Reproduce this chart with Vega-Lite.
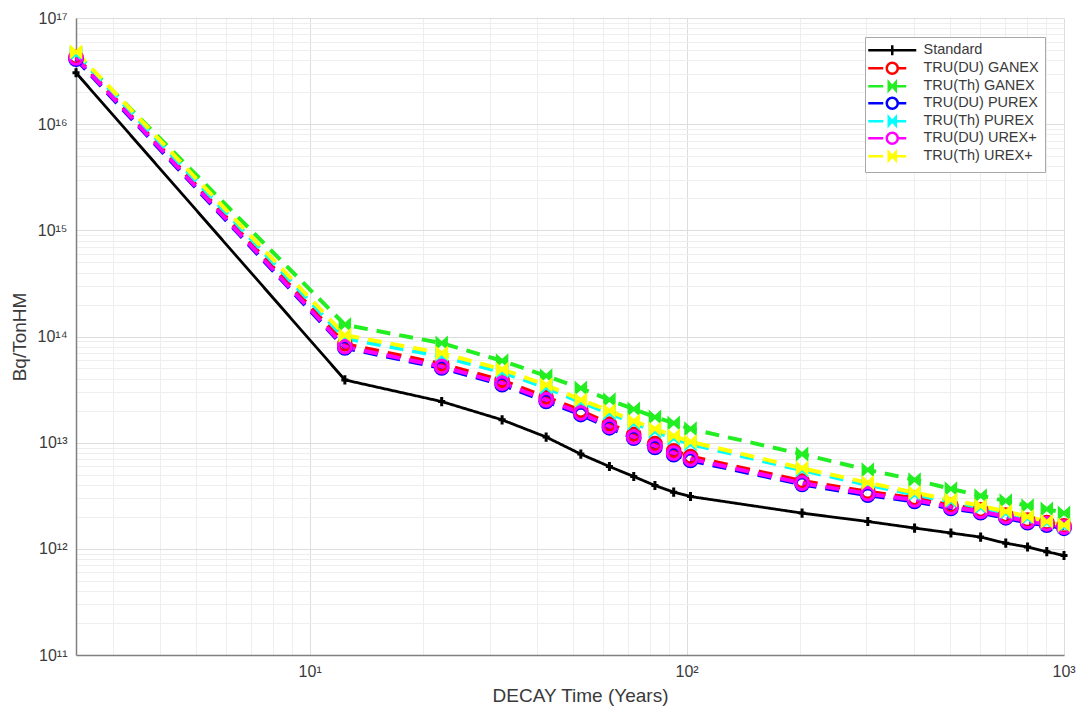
{
  "$schema": "https://vega.github.io/schema/vega-lite/v6.json",
  "width": 988,
  "height": 637,
  "autosize": {"type": "none"},
  "padding": {"left": 76, "top": 18, "right": 12, "bottom": 54},
  "background": "white",
  "config": {
    "view": {"stroke": null},
    "font": "Liberation Sans",
    "axis": {
      "labelFont": "Liberation Sans",
      "titleFont": "Liberation Sans",
      "labelColor": "#3a3a3a",
      "titleColor": "#3a3a3a",
      "titleFontWeight": "normal",
      "domainColor": "#808080",
      "domainWidth": 1.5,
      "ticks": false,
      "labelFontSize": 16,
      "titleFontSize": 19,
      "labelOverlap": false,
      "labelFlush": false,
      "gridWidth": 1
    },
    "legend": {
      "labelFont": "Liberation Sans",
      "labelFontSize": 14.5,
      "labelColor": "#3a3a3a"
    }
  },
  "datasets": {
    "decay": [
      {"s": "Standard", "t": 2.4, "v": 3.05e16},
      {"s": "Standard", "t": 12.4, "v": 3.9e13},
      {"s": "Standard", "t": 22.4, "v": 2.44e13},
      {"s": "Standard", "t": 32.4, "v": 1.64e13},
      {"s": "Standard", "t": 42.4, "v": 1.13e13},
      {"s": "Standard", "t": 52.4, "v": 7.8e12},
      {"s": "Standard", "t": 62.4, "v": 5.96e12},
      {"s": "Standard", "t": 72.4, "v": 4.8e12},
      {"s": "Standard", "t": 82.4, "v": 3.95e12},
      {"s": "Standard", "t": 92.4, "v": 3.42e12},
      {"s": "Standard", "t": 102.4, "v": 3.11e12},
      {"s": "Standard", "t": 202.4, "v": 2.17e12},
      {"s": "Standard", "t": 302.4, "v": 1.81e12},
      {"s": "Standard", "t": 402.4, "v": 1.57e12},
      {"s": "Standard", "t": 502.4, "v": 1.41e12},
      {"s": "Standard", "t": 602.4, "v": 1.29e12},
      {"s": "Standard", "t": 702.4, "v": 1.13e12},
      {"s": "Standard", "t": 802.4, "v": 1.04e12},
      {"s": "Standard", "t": 902.4, "v": 9.4e11},
      {"s": "Standard", "t": 1002.4, "v": 8.65e11},

      {"s": "TRU(DU) GANEX", "t": 2.4, "v": 4.3e16},
      {"s": "TRU(DU) GANEX", "t": 12.4, "v": 8.5e13},
      {"s": "TRU(DU) GANEX", "t": 22.4, "v": 5.5e13},
      {"s": "TRU(DU) GANEX", "t": 32.4, "v": 3.85e13},
      {"s": "TRU(DU) GANEX", "t": 42.4, "v": 2.68e13},
      {"s": "TRU(DU) GANEX", "t": 52.4, "v": 2.0e13},
      {"s": "TRU(DU) GANEX", "t": 62.4, "v": 1.5e13},
      {"s": "TRU(DU) GANEX", "t": 72.4, "v": 1.2e13},
      {"s": "TRU(DU) GANEX", "t": 82.4, "v": 9.8e12},
      {"s": "TRU(DU) GANEX", "t": 92.4, "v": 8.4e12},
      {"s": "TRU(DU) GANEX", "t": 102.4, "v": 7.4e12},
      {"s": "TRU(DU) GANEX", "t": 202.4, "v": 4.35e12},
      {"s": "TRU(DU) GANEX", "t": 302.4, "v": 3.45e12},
      {"s": "TRU(DU) GANEX", "t": 402.4, "v": 3.0e12},
      {"s": "TRU(DU) GANEX", "t": 502.4, "v": 2.57e12},
      {"s": "TRU(DU) GANEX", "t": 602.4, "v": 2.33e12},
      {"s": "TRU(DU) GANEX", "t": 702.4, "v": 2.08e12},
      {"s": "TRU(DU) GANEX", "t": 802.4, "v": 1.87e12},
      {"s": "TRU(DU) GANEX", "t": 902.4, "v": 1.77e12},
      {"s": "TRU(DU) GANEX", "t": 1002.4, "v": 1.65e12},

      {"s": "TRU(Th) GANEX", "t": 2.4, "v": 4.6e16},
      {"s": "TRU(Th) GANEX", "t": 12.4, "v": 1.29e14},
      {"s": "TRU(Th) GANEX", "t": 22.4, "v": 8.65e13},
      {"s": "TRU(Th) GANEX", "t": 32.4, "v": 5.9e13},
      {"s": "TRU(Th) GANEX", "t": 42.4, "v": 4.25e13},
      {"s": "TRU(Th) GANEX", "t": 52.4, "v": 3.26e13},
      {"s": "TRU(Th) GANEX", "t": 62.4, "v": 2.53e13},
      {"s": "TRU(Th) GANEX", "t": 72.4, "v": 2.07e13},
      {"s": "TRU(Th) GANEX", "t": 82.4, "v": 1.74e13},
      {"s": "TRU(Th) GANEX", "t": 92.4, "v": 1.53e13},
      {"s": "TRU(Th) GANEX", "t": 102.4, "v": 1.35e13},
      {"s": "TRU(Th) GANEX", "t": 202.4, "v": 7.8e12},
      {"s": "TRU(Th) GANEX", "t": 302.4, "v": 5.54e12},
      {"s": "TRU(Th) GANEX", "t": 402.4, "v": 4.47e12},
      {"s": "TRU(Th) GANEX", "t": 502.4, "v": 3.67e12},
      {"s": "TRU(Th) GANEX", "t": 602.4, "v": 3.16e12},
      {"s": "TRU(Th) GANEX", "t": 702.4, "v": 2.83e12},
      {"s": "TRU(Th) GANEX", "t": 802.4, "v": 2.54e12},
      {"s": "TRU(Th) GANEX", "t": 902.4, "v": 2.37e12},
      {"s": "TRU(Th) GANEX", "t": 1002.4, "v": 2.17e12},

      {"s": "TRU(DU) PUREX", "t": 2.4, "v": 4.1e16},
      {"s": "TRU(DU) PUREX", "t": 12.4, "v": 7.8e13},
      {"s": "TRU(DU) PUREX", "t": 22.4, "v": 5.05e13},
      {"s": "TRU(DU) PUREX", "t": 32.4, "v": 3.52e13},
      {"s": "TRU(DU) PUREX", "t": 42.4, "v": 2.45e13},
      {"s": "TRU(DU) PUREX", "t": 52.4, "v": 1.84e13},
      {"s": "TRU(DU) PUREX", "t": 62.4, "v": 1.38e13},
      {"s": "TRU(DU) PUREX", "t": 72.4, "v": 1.1e13},
      {"s": "TRU(DU) PUREX", "t": 82.4, "v": 9.0e12},
      {"s": "TRU(DU) PUREX", "t": 92.4, "v": 7.7e12},
      {"s": "TRU(DU) PUREX", "t": 102.4, "v": 6.8e12},
      {"s": "TRU(DU) PUREX", "t": 202.4, "v": 4.05e12},
      {"s": "TRU(DU) PUREX", "t": 302.4, "v": 3.2e12},
      {"s": "TRU(DU) PUREX", "t": 402.4, "v": 2.8e12},
      {"s": "TRU(DU) PUREX", "t": 502.4, "v": 2.4e12},
      {"s": "TRU(DU) PUREX", "t": 602.4, "v": 2.19e12},
      {"s": "TRU(DU) PUREX", "t": 702.4, "v": 1.96e12},
      {"s": "TRU(DU) PUREX", "t": 802.4, "v": 1.76e12},
      {"s": "TRU(DU) PUREX", "t": 902.4, "v": 1.67e12},
      {"s": "TRU(DU) PUREX", "t": 1002.4, "v": 1.56e12},

      {"s": "TRU(Th) PUREX", "t": 2.4, "v": 4.6e16},
      {"s": "TRU(Th) PUREX", "t": 12.4, "v": 9.6e13},
      {"s": "TRU(Th) PUREX", "t": 22.4, "v": 6.5e13},
      {"s": "TRU(Th) PUREX", "t": 32.4, "v": 4.6e13},
      {"s": "TRU(Th) PUREX", "t": 42.4, "v": 3.3e13},
      {"s": "TRU(Th) PUREX", "t": 52.4, "v": 2.4e13},
      {"s": "TRU(Th) PUREX", "t": 62.4, "v": 1.9e13},
      {"s": "TRU(Th) PUREX", "t": 72.4, "v": 1.52e13},
      {"s": "TRU(Th) PUREX", "t": 82.4, "v": 1.28e13},
      {"s": "TRU(Th) PUREX", "t": 92.4, "v": 1.1e13},
      {"s": "TRU(Th) PUREX", "t": 102.4, "v": 9.7e12},
      {"s": "TRU(Th) PUREX", "t": 202.4, "v": 5.5e12},
      {"s": "TRU(Th) PUREX", "t": 302.4, "v": 4.0e12},
      {"s": "TRU(Th) PUREX", "t": 402.4, "v": 3.25e12},
      {"s": "TRU(Th) PUREX", "t": 502.4, "v": 2.78e12},
      {"s": "TRU(Th) PUREX", "t": 602.4, "v": 2.45e12},
      {"s": "TRU(Th) PUREX", "t": 702.4, "v": 2.17e12},
      {"s": "TRU(Th) PUREX", "t": 802.4, "v": 1.95e12},
      {"s": "TRU(Th) PUREX", "t": 902.4, "v": 1.76e12},
      {"s": "TRU(Th) PUREX", "t": 1002.4, "v": 1.63e12},

      {"s": "TRU(DU) UREX+", "t": 2.4, "v": 4.2e16},
      {"s": "TRU(DU) UREX+", "t": 12.4, "v": 8.0e13},
      {"s": "TRU(DU) UREX+", "t": 22.4, "v": 5.2e13},
      {"s": "TRU(DU) UREX+", "t": 32.4, "v": 3.63e13},
      {"s": "TRU(DU) UREX+", "t": 42.4, "v": 2.53e13},
      {"s": "TRU(DU) UREX+", "t": 52.4, "v": 1.9e13},
      {"s": "TRU(DU) UREX+", "t": 62.4, "v": 1.42e13},
      {"s": "TRU(DU) UREX+", "t": 72.4, "v": 1.13e13},
      {"s": "TRU(DU) UREX+", "t": 82.4, "v": 9.3e12},
      {"s": "TRU(DU) UREX+", "t": 92.4, "v": 7.96e12},
      {"s": "TRU(DU) UREX+", "t": 102.4, "v": 7.03e12},
      {"s": "TRU(DU) UREX+", "t": 202.4, "v": 4.16e12},
      {"s": "TRU(DU) UREX+", "t": 302.4, "v": 3.3e12},
      {"s": "TRU(DU) UREX+", "t": 402.4, "v": 2.89e12},
      {"s": "TRU(DU) UREX+", "t": 502.4, "v": 2.47e12},
      {"s": "TRU(DU) UREX+", "t": 602.4, "v": 2.25e12},
      {"s": "TRU(DU) UREX+", "t": 702.4, "v": 2.01e12},
      {"s": "TRU(DU) UREX+", "t": 802.4, "v": 1.81e12},
      {"s": "TRU(DU) UREX+", "t": 902.4, "v": 1.72e12},
      {"s": "TRU(DU) UREX+", "t": 1002.4, "v": 1.6e12},

      {"s": "TRU(Th) UREX+", "t": 2.4, "v": 4.8e16},
      {"s": "TRU(Th) UREX+", "t": 12.4, "v": 1.03e14},
      {"s": "TRU(Th) UREX+", "t": 22.4, "v": 6.97e13},
      {"s": "TRU(Th) UREX+", "t": 32.4, "v": 4.9e13},
      {"s": "TRU(Th) UREX+", "t": 42.4, "v": 3.5e13},
      {"s": "TRU(Th) UREX+", "t": 52.4, "v": 2.53e13},
      {"s": "TRU(Th) UREX+", "t": 62.4, "v": 2.0e13},
      {"s": "TRU(Th) UREX+", "t": 72.4, "v": 1.6e13},
      {"s": "TRU(Th) UREX+", "t": 82.4, "v": 1.35e13},
      {"s": "TRU(Th) UREX+", "t": 92.4, "v": 1.16e13},
      {"s": "TRU(Th) UREX+", "t": 102.4, "v": 1.02e13},
      {"s": "TRU(Th) UREX+", "t": 202.4, "v": 5.75e12},
      {"s": "TRU(Th) UREX+", "t": 302.4, "v": 4.2e12},
      {"s": "TRU(Th) UREX+", "t": 402.4, "v": 3.39e12},
      {"s": "TRU(Th) UREX+", "t": 502.4, "v": 2.89e12},
      {"s": "TRU(Th) UREX+", "t": 602.4, "v": 2.54e12},
      {"s": "TRU(Th) UREX+", "t": 702.4, "v": 2.25e12},
      {"s": "TRU(Th) UREX+", "t": 802.4, "v": 2.01e12},
      {"s": "TRU(Th) UREX+", "t": 902.4, "v": 1.81e12},
      {"s": "TRU(Th) UREX+", "t": 1002.4, "v": 1.68e12}
    ]
  },
  "data": {"name": "decay"},
  "encoding": {
    "x": {
      "field": "t",
      "type": "quantitative",
      "scale": {"type": "log", "domain": [2.4, 1002.4], "nice": false},
      "axis": {
        "title": "DECAY Time (Years)",
        "titlePadding": 7,
        "titleX": 504,
        "labelPadding": 8,
        "values": [3, 4, 5, 6, 7, 8, 9, 10, 20, 30, 40, 50, 60, 70, 80, 90, 100, 200, 300, 400, 500, 600, 700, 800, 900, 1000],
        "labelExpr": "datum.value == 10 ? '10¹' : datum.value == 100 ? '10²' : datum.value == 1000 ? '10³' : ''",
        "gridColor": {
          "condition": {"test": "abs(log(datum.value)/LN10 - round(log(datum.value)/LN10)) < 0.001", "value": "#dddddd"},
          "value": "#eeeeee"
        }
      }
    },
    "y": {
      "field": "v",
      "type": "quantitative",
      "scale": {"type": "log", "domain": [1e11, 1e17], "nice": false},
      "axis": {
        "title": "Bq/TonHM",
        "titlePadding": 8,
        "labelPadding": 9,
        "values": [1e11, 2e11, 3e11, 4e11, 5e11, 6e11, 7e11, 8e11, 9e11,
                   1e12, 2e12, 3e12, 4e12, 5e12, 6e12, 7e12, 8e12, 9e12,
                   1e13, 2e13, 3e13, 4e13, 5e13, 6e13, 7e13, 8e13, 9e13,
                   1e14, 2e14, 3e14, 4e14, 5e14, 6e14, 7e14, 8e14, 9e14,
                   1e15, 2e15, 3e15, 4e15, 5e15, 6e15, 7e15, 8e15, 9e15,
                   1e16, 2e16, 3e16, 4e16, 5e16, 6e16, 7e16, 8e16, 9e16, 1e17],
        "labelExpr": "datum.value == 1e11 ? '10¹¹' : datum.value == 1e12 ? '10¹²' : datum.value == 1e13 ? '10¹³' : datum.value == 1e14 ? '10¹⁴' : datum.value == 1e15 ? '10¹⁵' : datum.value == 1e16 ? '10¹⁶' : datum.value == 1e17 ? '10¹⁷' : ''",
        "gridColor": {
          "condition": {"test": "abs(log(datum.value)/LN10 - round(log(datum.value)/LN10)) < 0.001", "value": "#dddddd"},
          "value": "#eeeeee"
        }
      }
    },
    "color": {
      "field": "s",
      "type": "nominal",
      "sort": null,
      "scale": {
        "domain": ["Standard", "TRU(DU) GANEX", "TRU(Th) GANEX", "TRU(DU) PUREX", "TRU(Th) PUREX", "TRU(DU) UREX+", "TRU(Th) UREX+"],
        "range": ["#000000", "#ff0000", "#22ee22", "#0000ff", "#00ffff", "#ff00ff", "#ffff00"]
      },
      "legend": {
        "title": null,
        "orient": "none",
        "legendX": 789,
        "legendY": 19,
        "padding": 6,
        "fillColor": "white",
        "strokeColor": "#a8a8a8",
        "symbolSize": 100,
        "symbolOffset": 14,
        "labelOffset": 24,
        "rowPadding": -5,
        "encode": {
          "symbols": {
            "update": {
              "shape": {"signal": "datum.value == 'Standard' ? 'M-4.8,0H4.8M0,-1V1' : indexof(datum.value, '(DU)') >= 0 ? 'M-4.8,0H-1.8M1.1,0H2.8M1.1,0A1.1,1.1,0,0,1,-1.1,0A1.1,1.1,0,0,1,1.1,0Z' : 'M-4.8,0H-1.8M-0.7,0H2.8M-0.7,-0.8L0.7,0.8L0.7,-0.8L-0.7,0.8Z'"},
              "stroke": {"scale": "color", "field": "value"},
              "fill": {"signal": "indexof(datum.value, '(Th)') >= 0 ? scale('color', datum.value) : 'transparent'"},
              "strokeWidth": {"value": 2.5},
              "strokeDash": {"value": []},
              "opacity": {"value": 1}
            }
          }
        }
      }
    }
  },
  "layer": [
    {
      "mark": {"type": "line", "strokeCap": "butt"},
      "encoding": {
        "strokeDash": {
          "condition": {"test": "datum.s == 'Standard'", "value": [1, 0]},
          "value": [14, 9]
        },
        "strokeWidth": {
          "condition": {"test": "datum.s == 'Standard'", "value": 2.8},
          "value": 4
        }
      }
    },
    {
      "mark": {"type": "point", "filled": false, "strokeWidth": 3, "opacity": 1},
      "encoding": {
        "shape": {
          "condition": [
            {"test": "datum.s == 'Standard'", "value": "M-1,0H1M0,-1.3V1.3"},
            {"test": "indexof(datum.s, '(DU)') >= 0", "value": "circle"}
          ],
          "value": "M-1,-0.9L1,0.9L1,-0.9L-1,0.9Z"
        },
        "size": {
          "condition": [
            {"test": "datum.s == 'Standard'", "value": 50},
            {"test": "indexof(datum.s, '(DU)') >= 0", "value": 160}
          ],
          "value": 90
        },
        "fill": {
          "condition": [
            {"test": "datum.s == 'TRU(Th) GANEX'", "value": "#22ee22"},
            {"test": "datum.s == 'TRU(Th) PUREX'", "value": "#00ffff"},
            {"test": "datum.s == 'TRU(Th) UREX+'", "value": "#ffff00"}
          ],
          "value": "transparent"
        }
      }
    }
  ]
}
